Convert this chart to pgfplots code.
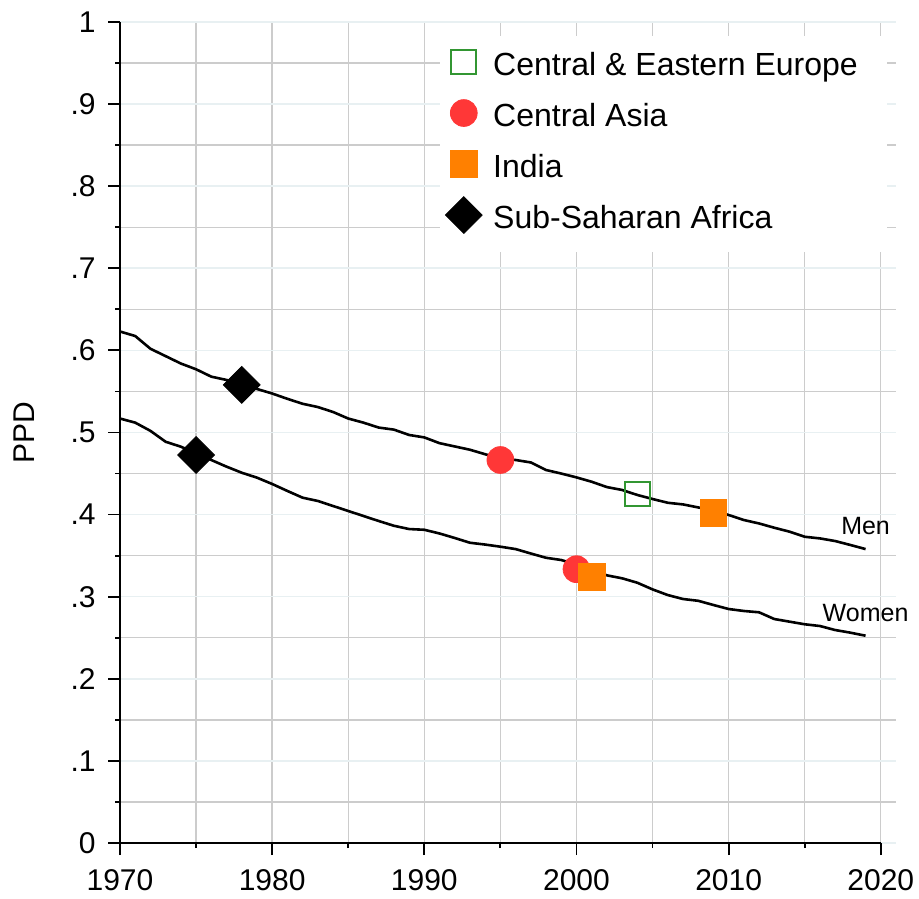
\documentclass[border=0pt]{standalone}
\usepackage{pgfplots}
\pgfplotsset{compat=1.18}
\usepackage{fontspec}
\setmainfont{Liberation Sans}

\definecolor{gridgray}{RGB}{204,204,204}
\definecolor{gridblue}{RGB}{232,240,242}
\definecolor{caRed}{RGB}{255,55,55}
\definecolor{inOrange}{RGB}{255,128,0}
\definecolor{ceeGreen}{RGB}{50,150,50}

% Probability of premature death, by year
\pgfplotstableread{
year men women
1970 0.623 0.517
1971 0.6175 0.512
1972 0.602 0.502
1973 0.593 0.4887
1974 0.584 0.4827
1975 0.577 0.4746
1976 0.568 0.4665
1977 0.564 0.4584
1978 0.558 0.451
1979 0.553 0.445
1980 0.5475 0.4373
1981 0.541 0.4288
1982 0.535 0.4206
1983 0.531 0.4166
1984 0.525 0.4105
1985 0.517 0.4044
1986 0.512 0.3983
1987 0.506 0.3922
1988 0.5035 0.3864
1989 0.497 0.3824
1990 0.494 0.3815
1991 0.487 0.377
1992 0.483 0.3715
1993 0.479 0.3657
1994 0.4735 0.3635
1995 0.4685 0.3609
1996 0.4665 0.358
1997 0.4635 0.3526
1998 0.4543 0.3474
1999 0.450 0.3447
2000 0.4453 0.339
2001 0.440 0.3325
2002 0.4335 0.326
2003 0.430 0.3224
2004 0.4239 0.317
2005 0.419 0.3089
2006 0.4144 0.302
2007 0.4124 0.2972
2008 0.4087 0.295
2009 0.4056 0.2899
2010 0.3995 0.285
2011 0.3934 0.2826
2012 0.3892 0.281
2013 0.384 0.2728
2014 0.3792 0.2696
2015 0.373 0.2664
2016 0.371 0.2643
2017 0.3678 0.2594
2018 0.363 0.2562
2019 0.358 0.2525
}\ppdtable

\begin{document}
\begin{tikzpicture}
\begin{axis}[
  name=ax, at={(0pt,0pt)}, anchor=south west,
  scale only axis, width=388pt, height=410.5pt,
  xmin=1970, xmax=2021, ymin=0, ymax=1,
  clip=false,
  axis x line*=bottom, axis y line*=left,
  axis line style={-, line width=1.4pt},
  x axis line style={draw=none},
  xtick={1970,1980,1990,2000,2010,2020},
  minor xtick={1975,1985,1995,2005,2015},
  ytick={0,0.1,0.2,0.3,0.4,0.5,0.6,0.7,0.8,0.9,1},
  yticklabels={0,.1,.2,.3,.4,.5,.6,.7,.8,.9,1},
  minor ytick={0.05,0.15,0.25,0.35,0.45,0.55,0.65,0.75,0.85,0.95},
  xticklabel={\pgfmathprintnumber[precision=0,1000 sep={}]{\tick}},
  /pgf/number format/assume math mode=true,
  tick align=outside,
  major tick length=6pt, minor tick length=2.5pt,
  tick style={black, line width=0.9pt},
  grid=both,
  major x grid style={gridgray, line width=0.7pt},
  minor x grid style={gridgray, line width=0.7pt},
  major y grid style={gridblue, line width=0.8pt},
  minor y grid style={gridgray, line width=0.7pt},
  ticklabel style={font=\fontsize{15}{18}\selectfont},
  xticklabel style={inner sep=0pt, anchor=north, yshift=-7pt},
  yticklabel style={inner sep=0pt, anchor=east, xshift=-6pt},
  ylabel={PPD},
  ylabel style={font=\fontsize{15}{18}\selectfont, at={(axis description cs:-0.1237,0.5)}, anchor=center},
  legend style={draw=none, fill=white, at={(axis cs:1991.03,0.984)}, anchor=north west,
    inner xsep=10.5pt, inner ysep=6.2pt, row sep=6pt,
    font=\fontsize{16}{19}\selectfont,
    nodes={inner xsep=4pt, inner ysep=2pt, text height=12pt, text depth=3.5pt}},
  legend cell align=left,
  legend image code/.code={
    \path (0pt,0pt) (11.5pt,0pt);
    \begin{pgfinterruptboundingbox}
      \draw[#1] plot coordinates {(1pt,2.7pt)};
    \end{pgfinterruptboundingbox}
  },
]
\addplot[black, line width=1.3pt, forget plot] table[x=year, y=men] {\ppdtable};
\addplot[black, line width=1.3pt, forget plot] table[x=year, y=women] {\ppdtable};

\addplot[only marks, mark=square, mark size=6.2pt, mark options={draw=ceeGreen, line width=1pt}]
  coordinates {(2004,0.425)};
\addlegendentry{Central \& Eastern Europe}
\addplot[only marks, mark=*, mark size=6.7pt, mark options={draw=caRed, fill=caRed}]
  coordinates {(1995,0.4665) (2000,0.3335)};
\addlegendentry{Central Asia}
\addplot[only marks, mark=square*, mark size=6.7pt, mark options={draw=inOrange, fill=inOrange}]
  coordinates {(2009,0.4016) (2001,0.3244)};
\addlegendentry{India}
\addplot[only marks, mark=square*, mark size=6.5pt, mark options={rotate=45, draw=black, fill=black}]
  coordinates {(1978,0.558) (1975,0.4726)};
\addlegendentry{Sub-Saharan Africa}

\draw[line width=1.4pt] (axis cs:1970,0) -- (axis cs:2020,0);
\node[font=\fontsize{12.5}{15}\selectfont] at (axis cs:2019,0.386) {Men};
\node[font=\fontsize{12.5}{15}\selectfont] at (axis cs:2019,0.280) {Women};
\end{axis}
\pgfresetboundingbox
\path (-60pt,-27.5pt) rectangle (399.5pt,421.5pt);
\end{tikzpicture}
\end{document}
